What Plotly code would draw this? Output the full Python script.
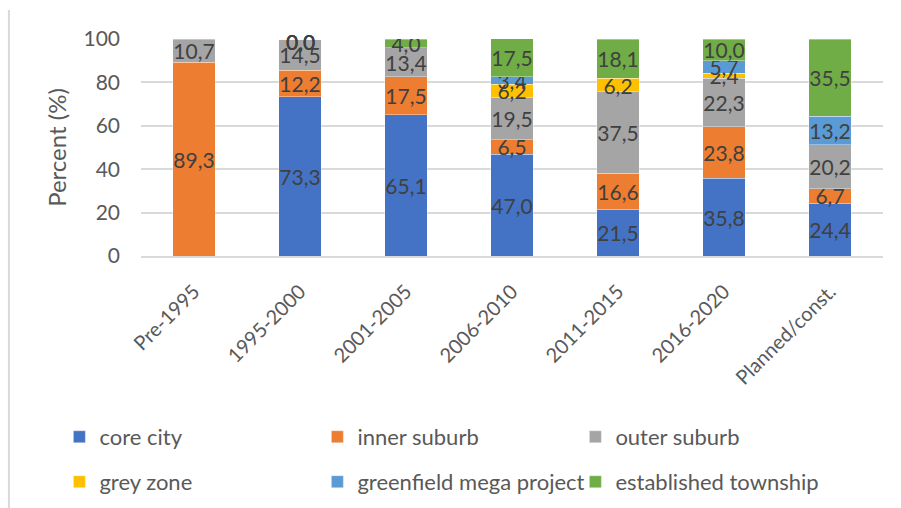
import plotly.graph_objects as go

categories = ["Pre-1995", "1995-2000", "2001-2005", "2006-2010", "2011-2015", "2016-2020", "Planned/const."]
core_city = [None, 73.3, 65.1, 47.0, 21.5, 35.8, 24.4]
inner_suburb = [89.3, 12.2, 17.5, 6.5, 16.6, 23.8, 6.7]
outer_suburb = [10.7, 14.5, 13.4, 19.5, 37.5, 22.3, 20.2]
grey_zone = [None, 0.0, None, 6.2, 6.2, 2.4, None]
greenfield = [None, 0.0, None, 3.4, None, 5.7, 13.2]
established = [None, 0.0, 4.0, 17.5, 18.1, 10.0, 35.5]

series = [
    ("core city", core_city, "#4472C4"),
    ("inner suburb", inner_suburb, "#ED7D31"),
    ("outer suburb", outer_suburb, "#A5A5A5"),
    ("grey zone", grey_zone, "#FFC000"),
    ("greenfield mega project", greenfield, "#5B9BD5"),
    ("established township", established, "#70AD47"),
]

FONT = "Lato, 'Open Sans', sans-serif"
LABEL_COLOR = "#404040"
AXIS_COLOR = "#595959"

fig = go.Figure()
for i, (name, vals, color) in enumerate(series):
    fig.add_trace(go.Bar(
        x=categories, y=vals, name=name,
        marker=dict(color=color, line=dict(color="rgba(255,255,255,0.6)", width=0.6)),
        texttemplate="%{y:.1f}",
        textposition="inside", insidetextanchor="middle",
        constraintext="none", textangle=0,
        insidetextfont=dict(family=FONT, size=21, color=LABEL_COLOR),
        legend="legend" if i < 3 else "legend2",
    ))

# zero-valued segments get their label at the top of the stack
annotations = []
for name, vals, color in series:
    for j, v in enumerate(vals):
        if v is not None and v == 0:
            total = sum(s[1][j] or 0 for s in series)
            annotations.append(dict(
                x=categories[j], y=total, xref="x", yref="y",
                text=f"{v:.1f}".replace(".", ","), showarrow=False,
                font=dict(family=FONT, size=21, color=LABEL_COLOR),
                yanchor="middle", yshift=-2,
            ))

legend_common = dict(
    orientation="h", xanchor="left", yanchor="middle",
    font=dict(family=FONT, size=22, color=AXIS_COLOR),
    entrywidth=213, entrywidthmode="pixels",
    bgcolor="rgba(0,0,0,0)", itemclick=False, traceorder="normal",
)

fig.update_layout(
    width=901, height=508,
    barmode="stack", bargap=0.6,
    separators=", ",
    plot_bgcolor="white", paper_bgcolor="white",
    margin=dict(l=141, r=18, t=39, b=252, autoexpand=False),
    font=dict(family=FONT, size=20, color=AXIS_COLOR),
    annotations=annotations,
    legend=dict(x=-0.11, y=-0.834, **legend_common),
    legend2=dict(x=-0.11, y=-1.041, **legend_common),
    shapes=[dict(type="line", xref="paper", yref="paper",
                 x0=-0.178, x1=-0.178, y0=1.134, y1=-1.2,
                 line=dict(color="#d9d9d9", width=2))],
)
fig.update_yaxes(
    range=[0, 100], dtick=20, showgrid=True, gridcolor="#d9d9d9", gridwidth=1.5,
    zeroline=False, showline=False, ticks="",
    tickfont=dict(family=FONT, size=21, color=AXIS_COLOR),
    ticklabelstandoff=20,
    title=dict(text="Percent (%)", font=dict(family=FONT, size=24, color=AXIS_COLOR), standoff=10),
)
fig.update_xaxes(
    showline=True, linecolor="#d9d9d9", linewidth=2, ticks="",
    tickangle=-45, tickfont=dict(family=FONT, size=20, color=AXIS_COLOR),
    ticklabelstandoff=14,
)

fig.write_html("out.html")
